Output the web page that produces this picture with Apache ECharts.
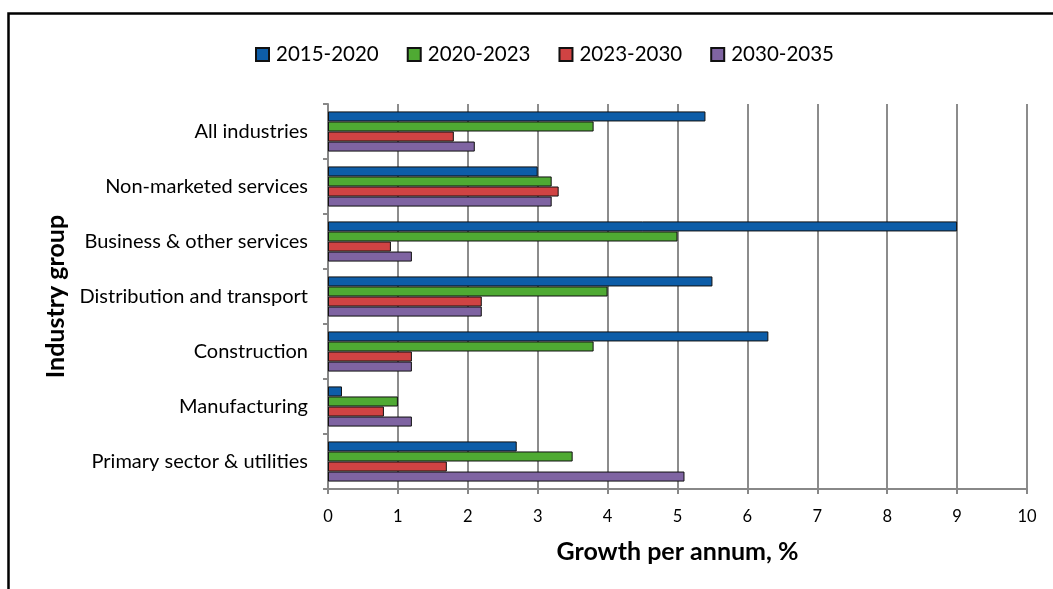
<!DOCTYPE html>
<html>
<head>
<meta charset="utf-8">
<script src="https://cdn.jsdelivr.net/npm/echarts@6/dist/echarts.min.js"></script>
<style>html,body{margin:0;padding:0;background:#fff}#c{width:1053px;height:589px}</style>
</head>
<body>
<div id="c"></div>
<script>
const categories = ["All industries", "Non-marketed services", "Business & other services", "Distribution and transport", "Construction", "Manufacturing", "Primary sector & utilities"];
const seriesNames = ["2015-2020", "2020-2023", "2023-2030", "2030-2035"];
const s2015_2020 = [5.4, 3.0, 9.0, 5.5, 6.3, 0.2, 2.7];
const s2020_2023 = [3.8, 3.2, 5.0, 4.0, 3.8, 1.0, 3.5];
const s2023_2030 = [1.8, 3.3, 0.9, 2.2, 1.2, 0.8, 1.7];
const s2030_2035 = [2.1, 3.2, 1.2, 2.2, 1.2, 1.2, 5.1];
const xTicks = [0, 1, 2, 3, 4, 5, 6, 7, 8, 9, 10];

const colors = ["#0D5DA8", "#4FAA33", "#D04343", "#7F64A2"];
const seriesData = [s2015_2020, s2020_2023, s2023_2030, s2030_2035];
const FONT = "Lato";

const chart = echarts.init(document.getElementById('c'), null, {renderer: 'canvas'});
chart.setOption({
  animation: false,
  backgroundColor: '#fff',
  color: colors,
  graphic: [{
    type: 'rect', left: 6, top: 11, shape: {x: 0, y: 0, width: 1200, height: 700},
    style: {fill: 'none', stroke: '#000', lineWidth: 2.5}, z: -1
  }],
  legend: {
    top: 39, left: 250,
    itemWidth: 13, itemHeight: 13, itemGap: 28,
    icon: 'rect',
    textStyle: {fontFamily: FONT, fontSize: 20.5, color: '#000', padding: [0, 0, 0, 2]},
    data: seriesNames
  },
  grid: {left: 328, right: 26, top: 104, bottom: 100, containLabel: false},
  xAxis: {
    type: 'value', min: 0, max: 10, interval: 1,
    name: 'Growth per annum, %', nameLocation: 'middle', nameGap: 50,
    nameTextStyle: {fontFamily: FONT, fontSize: 25, fontWeight: 'bold', color: '#000'},
    axisLine: {show: true, lineStyle: {color: '#888', width: 2}},
    axisTick: {show: true, length: 5, lineStyle: {color: '#888', width: 2}},
    axisLabel: {fontFamily: FONT, fontSize: 16.5, color: '#000', margin: 19,
      formatter: v => xTicks.includes(v) ? String(v) : ''},
    splitLine: {show: true, lineStyle: {color: '#8c8c8c', width: 2}}
  },
  yAxis: {
    type: 'category', data: categories, inverse: true,
    name: 'Industry group', nameLocation: 'middle', nameGap: 248, nameRotate: 90,
    nameTextStyle: {fontFamily: FONT, fontSize: 25, fontWeight: 'bold', color: '#000'},
    axisLine: {show: true, lineStyle: {color: '#888', width: 2}},
    axisTick: {show: true, length: 5, lineStyle: {color: '#888', width: 2}},
    axisLabel: {fontFamily: FONT, fontSize: 20, color: '#000', margin: 20},
    splitLine: {show: false}
  },
  series: seriesNames.map((n, i) => ({
    name: n, type: 'bar', data: seriesData[i],
    barGap: '0%', barCategoryGap: '27%',
    itemStyle: {color: colors[i], borderColor: '#111', borderWidth: 1}
  }))
});
</script>
</body>
</html>
